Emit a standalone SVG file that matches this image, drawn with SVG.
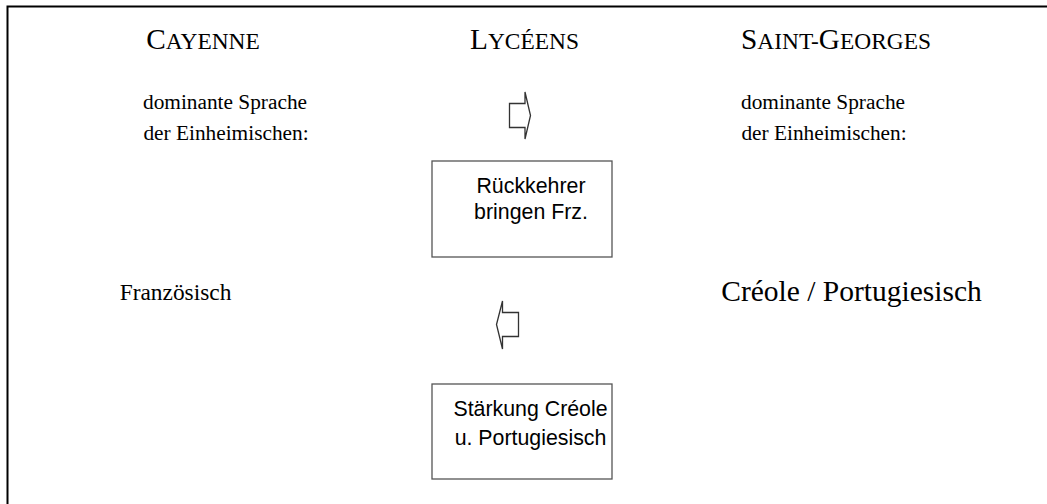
<svg xmlns="http://www.w3.org/2000/svg" width="1047" height="504" viewBox="0 0 1047 504">
<style>
.serif{font-family:"Liberation Serif","Times New Roman",serif;font-size:21.33px;fill:#000;text-anchor:middle}
.big{font-size:29.3px}
.sm{font-size:23.4px}
.box{fill:#fff;stroke:#555;stroke-width:1.3}
.bt{font-family:"Liberation Sans",Arial,sans-serif;font-size:21.33px;fill:#000;text-anchor:middle}
.arr{fill:#fff;stroke:#333;stroke-width:1.3;stroke-linejoin:miter}
.frame{fill:none;stroke:#000;stroke-width:2}
</style>
<rect width="1047" height="504" fill="#fff"/>
<path class="frame" d="M7.5,504 V6.5 H1047"/>
<g id="head-cayenne"><text class="serif" x="203" y="49"><tspan class="big">C</tspan><tspan class="sm">AYENNE</tspan></text></g>
<g id="head-lyceens"><text class="serif" x="524.5" y="49"><tspan class="big">L</tspan><tspan class="sm">YCÉENS</tspan></text></g>
<g id="head-saintgeorges"><text class="serif" x="836" y="49"><tspan class="big">S</tspan><tspan class="sm">AINT-</tspan><tspan class="big">G</tspan><tspan class="sm">EORGES</tspan></text></g>
<g id="cayenne-lang">
<text class="serif" x="225" y="109">dominante Sprache</text>
<text class="serif" x="226" y="140">der Einheimischen:</text>
<text class="serif" x="175.5" y="300" style="font-size:23.4px">Französisch</text>
</g>
<g id="stgeorges-lang">
<text class="serif" x="823" y="109">dominante Sprache</text>
<text class="serif" x="824" y="140">der Einheimischen:</text>
<text class="serif" x="851.5" y="301" style="font-size:29.5px">Créole / Portugiesisch</text>
</g>
<g id="box-rueckkehrer">
<rect class="box" x="432" y="161" width="180" height="96"/>
<text class="bt" x="531" y="193">Rückkehrer</text>
<text class="bt" x="531" y="219">bringen Frz.</text>
</g>
<g id="box-staerkung">
<rect class="box" x="432" y="384" width="180" height="95"/>
<text class="bt" x="530.5" y="416">Stärkung Créole</text>
<text class="bt" x="530.5" y="445">u. Portugiesisch</text>
</g>
<g id="connectors">
<polygon class="arr" points="509.5,103.5 525,103.5 525,92 530.5,115.5 525,139 525,127.5 509.5,127.5"/>
<polygon class="arr" points="518.5,312.5 502.5,312.5 502.5,301 496.5,324.5 502.5,349 502.5,336.5 518.5,336.5"/>
</g>
</svg>
